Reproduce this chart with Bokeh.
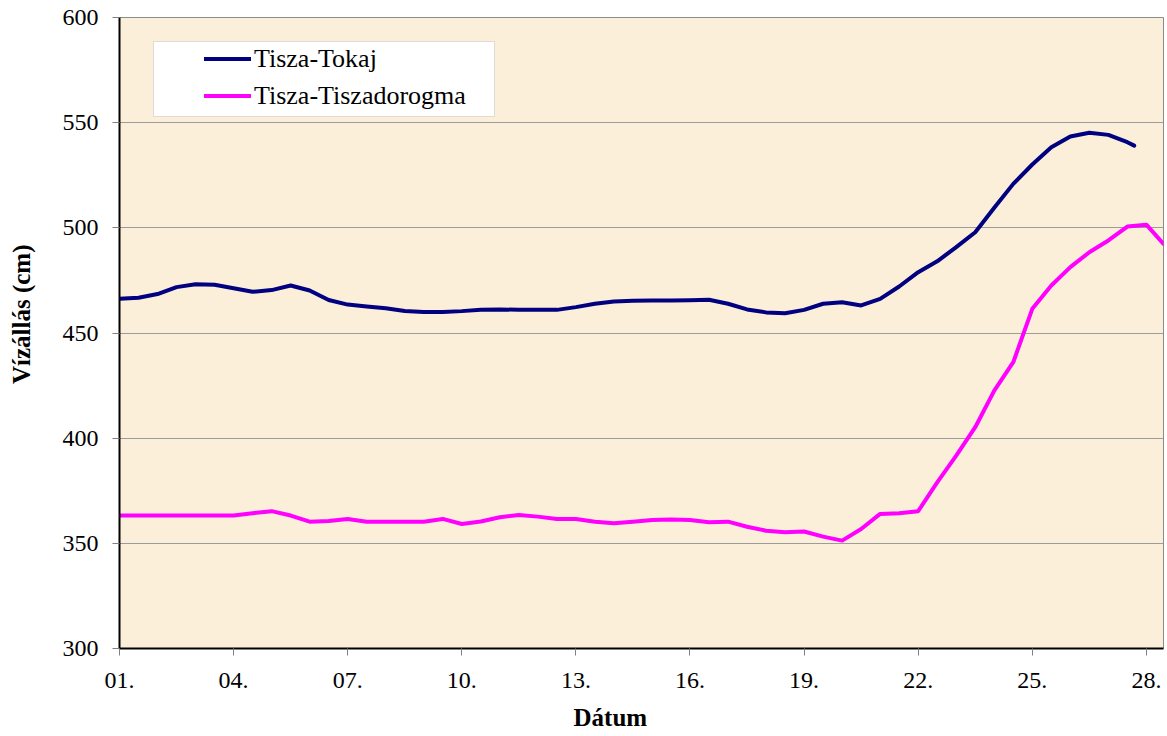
from bokeh.plotting import figure
from bokeh.models import (Range1d, FixedTicker, Legend, LegendItem, BoxAnnotation,
                          Title, LinearAxis)
from bokeh.embed import file_html
from bokeh.resources import INLINE

# Days of the month (half-day readings)
days_tokaj = [1.0, 1.5, 2.0, 2.5, 3.0, 3.5, 4.0, 4.5, 5.0, 5.5, 6.0, 6.5, 7.0, 7.5,
              8.0, 8.5, 9.0, 9.5, 10.0, 10.5, 11.0, 11.5, 12.0, 12.5, 13.0, 13.5,
              14.0, 14.5, 15.0, 15.5, 16.0, 16.5, 17.0, 17.5, 18.0, 18.5, 19.0, 19.5,
              20.0, 20.5, 21.0, 21.5, 22.0, 22.5, 23.0, 23.5, 24.0, 24.5, 25.0, 25.5,
              26.0, 26.5, 27.0, 27.5, 27.68]
level_tokaj = [466.3, 466.8, 468.5, 471.8, 473.2, 472.9, 471.3, 469.6, 470.4, 472.6,
               470.2, 465.7, 463.5, 462.6, 461.8, 460.5, 460.0, 460.0, 460.4, 461.1,
               461.2, 461.0, 461.0, 461.0, 462.3, 463.9, 465.0, 465.3, 465.4, 465.4,
               465.6, 465.8, 463.9, 461.2, 459.8, 459.4, 461.0, 463.9, 464.6, 463.1,
               466.2, 472.1, 478.9, 484.1, 490.8, 497.9, 509.5, 520.9, 530.1, 538.3,
               543.4, 545.2, 544.2, 540.7, 539.1]

days_dorogma = [1.0, 1.5, 2.0, 2.5, 3.0, 3.5, 4.0, 4.5, 5.0, 5.5, 6.0, 6.5, 7.0, 7.5,
                8.0, 8.5, 9.0, 9.5, 10.0, 10.5, 11.0, 11.5, 12.0, 12.5, 13.0, 13.5,
                14.0, 14.5, 15.0, 15.5, 16.0, 16.5, 17.0, 17.5, 18.0, 18.5, 19.0, 19.5,
                20.0, 20.5, 21.0, 21.5, 22.0, 22.5, 23.0, 23.5, 24.0, 24.5, 25.0, 25.5,
                26.0, 26.5, 27.0, 27.5, 28.0, 28.45]
level_dorogma = [363.2, 363.2, 363.2, 363.2, 363.2, 363.2, 363.2, 364.3, 365.3, 363.2,
                 360.3, 360.6, 361.6, 360.3, 360.3, 360.3, 360.3, 361.6, 359.2, 360.4,
                 362.4, 363.5, 362.7, 361.6, 361.6, 360.3, 359.5, 360.3, 361.1, 361.3,
                 361.1, 360.0, 360.3, 357.9, 356.0, 355.3, 355.6, 353.2, 351.3, 356.8,
                 364.0, 364.3, 365.3, 379.0, 391.7, 405.2, 422.6, 436.1, 461.5, 472.6,
                 481.3, 488.4, 494.0, 500.6, 501.5, 492.4]

tick_days = [1, 4, 7, 10, 13, 16, 19, 22, 25, 28]
tick_labels = ["01.", "04.", "07.", "10.", "13.", "16.", "19.", "22.", "25.", "28."]
y_ticks = [300, 350, 400, 450, 500, 550, 600]

series_names = ["Tisza-Tokaj", "Tisza-Tiszadorogma"]
series_colors = ["#000080", "#FF00FF"]
x_title = "Dátum"
y_title = "Vízállás (cm)"

FONT = "Liberation Serif"

p = figure(frame_width=1044, frame_height=631, output_backend="svg",
           toolbar_location=None,
           x_range=Range1d(1, 28.45), y_range=Range1d(300, 600),
           min_border_left=119, min_border_right=4, min_border_top=17,
           min_border_bottom=70)
p.background_fill_color = "#FBEFD9"
p.border_fill_color = "white"
p.outline_line_color = "#8C8C8C"
p.outline_line_width = 1

r1 = p.line(days_tokaj, level_tokaj, line_color=series_colors[0], line_width=4,
            line_cap="round", line_join="round")
r2 = p.line(days_dorogma, level_dorogma, line_color=series_colors[1], line_width=4,
            line_cap="round", line_join="round")

# axes
p.xaxis.ticker = FixedTicker(ticks=tick_days)
p.xaxis.major_label_overrides = {d: l for d, l in zip(tick_days, tick_labels)}
p.yaxis.ticker = FixedTicker(ticks=y_ticks)
for ax in (p.xaxis[0], p.yaxis[0]):
    ax.axis_line_color = "black"
    ax.axis_line_width = 2
    ax.major_tick_line_color = "#808080"
    ax.major_tick_in = 0
    ax.major_tick_out = 7
    ax.minor_tick_line_color = None
    ax.major_label_text_font = FONT
    ax.major_label_text_font_size = "24px"
    ax.major_label_text_color = "black"

p.yaxis.major_label_standoff = 14
p.xaxis.major_label_standoff = 17

# x-axis title (shifted left of the frame centre, as in the original)
xtitle = Title(text=x_title, align="left", offset=454, standoff=22,
               text_font=FONT, text_font_style="bold", text_font_size="25px",
               text_color="black")
p.add_layout(xtitle, "below")

# y-axis title on a bare outer axis; leading no-break spaces lift the centred
# title a little above the frame centre, as in the original
title_axis = LinearAxis(ticker=FixedTicker(ticks=[]),
                        axis_line_alpha=0, major_tick_out=0, major_tick_in=0,
                        minor_tick_out=0, minor_tick_in=0,
                        major_label_standoff=0,
                        axis_label="\u00a0" * 6 + y_title, axis_label_standoff=25,
                        axis_label_text_font=FONT,
                        axis_label_text_font_style="bold",
                        axis_label_text_font_size="25px",
                        axis_label_text_color="black")
p.add_layout(title_axis, "left")

p.xgrid.visible = False
p.ygrid.grid_line_color = "#9C9C9C"
p.ygrid.grid_line_width = 1

# legend box
box = BoxAnnotation(left=34, right=375, bottom=532, top=607,
                    left_units="screen", right_units="screen",
                    bottom_units="screen", top_units="screen",
                    fill_color="white", fill_alpha=1.0,
                    line_color="#A0A0A0", line_width=1)
p.add_layout(box)

legend = Legend(items=[LegendItem(label=series_names[0], renderers=[r1]),
                       LegendItem(label=series_names[1], renderers=[r2])],
                location=(85, 537), padding=0, margin=0, spacing=6,
                label_height=31, glyph_height=31, glyph_width=47,
                label_standoff=3, label_text_font=FONT,
                label_text_font_size="26px", label_text_color="black",
                background_fill_alpha=0, border_line_alpha=0)
p.add_layout(legend, "center")

open("out.html", "w").write(file_html(p, INLINE))
